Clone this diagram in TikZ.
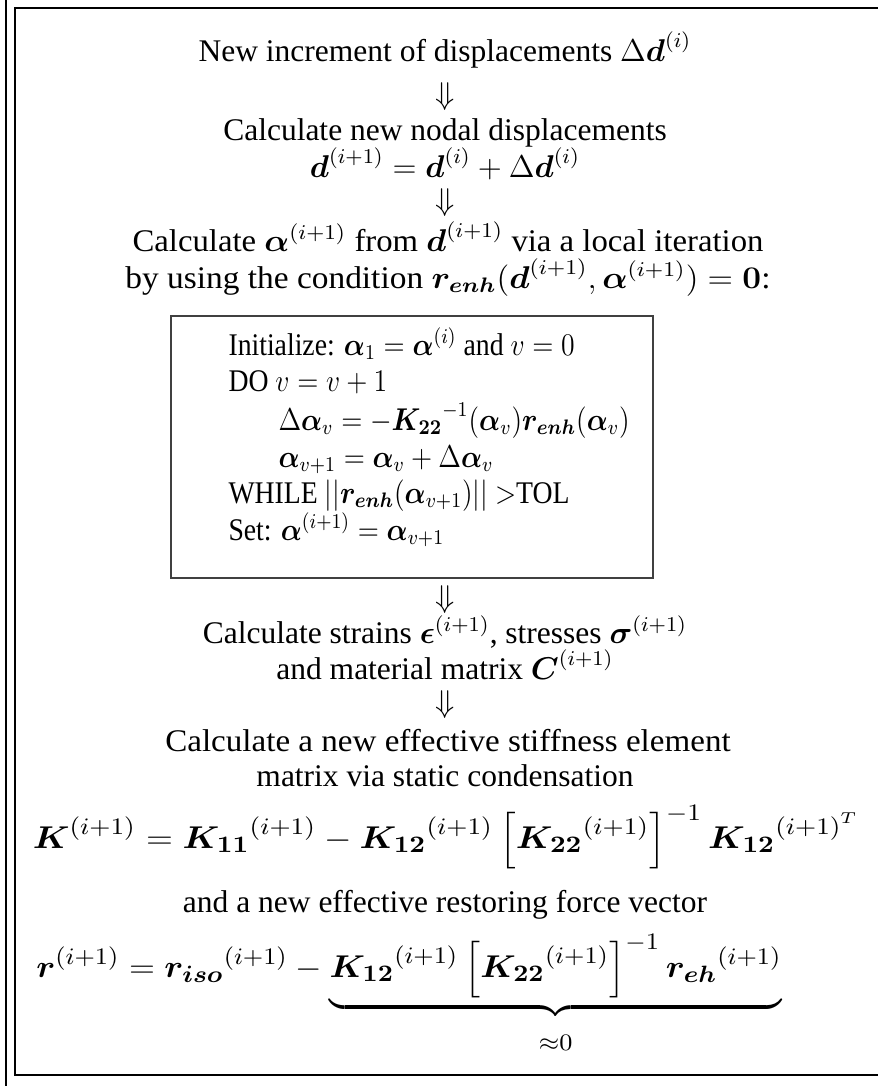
\documentclass[tikz,border=0pt]{standalone}
\usepackage{amsmath}
\usepackage{graphicx}
\usepackage[no-math]{fontspec}
\setmainfont{Liberation Serif}
\newcommand{\bsy}[1]{\boldsymbol{#1}}
\begin{document}
\begin{tikzpicture}[x=0.38095pt,y=-0.38095pt,
  txt/.style={anchor=base, inner sep=0pt, font=\fontsize{12}{14.5}\selectfont},
  eqn/.style={anchor=base, inner sep=0pt, font=\fontsize{12.5}{15}\selectfont},
  ltxt/.style={anchor=base west, inner sep=0pt, font=\fontsize{12}{14.5}\selectfont},
  arr/.style={anchor=center, inner sep=0pt, font=\fontsize{12}{14.5}\selectfont},
  frame/.style={draw=black, line width=0.5pt},
  loopbox/.style={draw=black!75, line width=0.45pt}]
\useasboundingbox (0,0) rectangle (877,1086);
% frames
\draw[frame] (6,0) -- (6,1086);
\draw[frame] (880,8) -- (15,8) -- (15,1075) -- (880,1075);
% main flow
\node[txt] (t1) at (445,61) {New increment of displacements $\Delta\bsy{d}^{(i)}$};
\node[arr] (a1) at (445,97) {$\Downarrow$};
\node[txt] (t2) at (445,140) {Calculate new nodal displacements};
\node[txt] (t3) at (445,177) {$\bsy{d}^{(i+1)} = \bsy{d}^{(i)} + \Delta\bsy{d}^{(i)}$};
\node[arr] (a2) at (445,203) {$\Downarrow$};
\node[txt] (t4) at (448,251) {\scalebox{1.04}[1]{Calculate $\bsy{\alpha}^{(i+1)}$ from $\bsy{d}^{(i+1)}$ via a local iteration}};
\node[txt] (t5) at (448,288) {\scalebox{1.06}[1]{by using the condition $\bsy{r_{enh}}(\bsy{d}^{(i+1)},\bsy{\alpha}^{(i+1)}) = \mathbf{0}$:}};
% local iteration box
\draw[loopbox] (171,316) rectangle (653,578);
\node[ltxt] (b1) at (228,355) {\scalebox{0.88}[1]{Initialize: $\bsy{\alpha}_1 = \bsy{\alpha}^{(i)}$ and $v=0$}};
\node[ltxt] (b2) at (228,391) {\scalebox{0.88}[1]{DO $v=v+1$}};
\node[ltxt] (b3) at (278,430) {\scalebox{0.88}[1]{$\Delta\bsy{\alpha}_v = -\bsy{K_{22}}^{-1}(\bsy{\alpha}_v)\bsy{r_{enh}}(\bsy{\alpha}_v)$}};
\node[ltxt] (b4) at (278,467) {\scalebox{0.88}[1]{$\bsy{\alpha}_{v+1} = \bsy{\alpha}_v + \Delta\bsy{\alpha}_v$}};
\node[ltxt] (b5) at (228,503) {\scalebox{0.88}[1]{WHILE $||\bsy{r_{enh}}(\bsy{\alpha}_{v+1})||$ $>$TOL}};
\node[ltxt] (b6) at (228,540) {\scalebox{0.88}[1]{Set: $\bsy{\alpha}^{(i+1)} = \bsy{\alpha}_{v+1}$}};
% continued flow
\node[arr] (a3) at (445,600) {$\Downarrow$};
\node[txt] (t6) at (445,643) {Calculate strains $\bsy{\epsilon}^{(i+1)}$, stresses $\bsy{\sigma}^{(i+1)}$};
\node[txt] (t7) at (445,679) {and material matrix $\bsy{C}^{(i+1)}$};
\node[arr] (a4) at (445,705) {$\Downarrow$};
\node[txt] (t8) at (448,751) {\scalebox{1.05}[1]{Calculate a new effective stiffness element}};
\node[txt] (t9) at (445,786) {matrix via static condensation};
\node[eqn] (t10) at (446,848) {\scalebox{1.12}[1]{$\displaystyle \bsy{K}^{(i+1)} = \bsy{K_{11}}^{(i+1)} - \bsy{K_{12}}^{(i+1)}\left[\bsy{K_{22}}^{(i+1)}\right]^{-1}\bsy{K_{12}}^{{(i+1)}^T}$}};
\node[txt] (t11) at (445,912) {and a new effective restoring force vector};
\node[eqn] (t12) at (409,977) {\scalebox{1.08}[1]{$\displaystyle \bsy{r}^{(i+1)} = \bsy{r_{iso}}^{(i+1)} - \underbrace{\bsy{K_{12}}^{(i+1)}\left[\bsy{K_{22}}^{(i+1)}\right]^{-1}\bsy{r_{eh}}^{(i+1)}}_{\rule{0pt}{1.9ex}\approx 0}$}};
\end{tikzpicture}
\end{document}
